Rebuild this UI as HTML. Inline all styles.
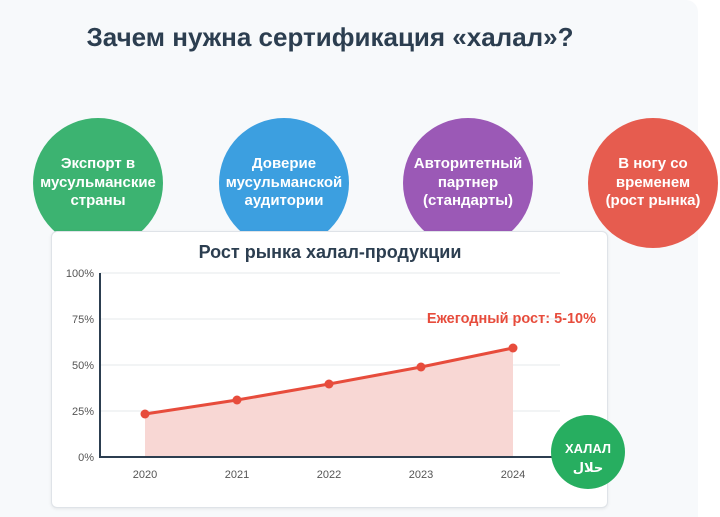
<!DOCTYPE html>
<html><head><meta charset="utf-8"><style>
body{margin:0;width:720px;height:517px;background:#fff;overflow:hidden;font-family:"Liberation Sans","DejaVu Sans",sans-serif;position:relative}
.panel{position:absolute;left:0;top:0;width:698px;height:517px;background:#f7f9fb;border-radius:0 12px 0 0}
h1{position:absolute;left:0;width:660px;top:22px;margin:0;text-align:center;font-size:26px;color:#2c3e50;font-weight:bold}
.c{position:absolute;width:130px;height:130px;border-radius:50%;top:118px;color:#fff;font-weight:bold;font-size:15px;line-height:18.5px;display:flex;align-items:center;justify-content:center;text-align:center}
.card{position:absolute;left:51px;top:231px;width:555px;height:275px;background:#fff;border:1px solid #dfe3e8;border-radius:6px;box-shadow:0 1px 3px rgba(0,0,0,.08)}
</style></head><body>
<div class="panel"></div>
<h1>Зачем нужна сертификация «халал»?</h1>
<div class="c" style="left:33px;background:#3cb371">Экспорт в<br>мусульманские<br>страны</div>
<div class="c" style="left:219px;background:#3c9fe0">Доверие<br>мусульманской<br>аудитории</div>
<div class="c" style="left:403px;background:#9b59b6">Авторитетный<br>партнер<br>(стандарты)</div>
<div class="c" style="left:588px;background:#e65c4f">В ногу со<br>временем<br>(рост рынка)</div>
<div class="card"></div>
<svg style="position:absolute;left:0;top:0" width="720" height="517" font-family="Liberation Sans, sans-serif">
<text x="330" y="258" text-anchor="middle" font-size="18" font-weight="bold" fill="#2c3e50">Рост рынка халал-продукции</text>
<g stroke="#e6e8eb" stroke-width="1">
<line x1="100" x2="560" y1="273" y2="273"/><line x1="100" x2="560" y1="319" y2="319"/><line x1="100" x2="560" y1="365" y2="365"/><line x1="100" x2="560" y1="411" y2="411"/></g>
<g font-size="11" fill="#555" text-anchor="end">
<text x="94" y="277">100%</text><text x="94" y="323">75%</text><text x="94" y="369">50%</text><text x="94" y="415">25%</text><text x="94" y="461">0%</text></g>
<polygon points="145,414 237,400 329,384 421,367 513,348 513,457 145,457" fill="#f8d7d4"/>
<line x1="100" y1="273" x2="100" y2="458" stroke="#2c3e50" stroke-width="2"/>
<line x1="99" y1="457" x2="560" y2="457" stroke="#2c3e50" stroke-width="2"/>
<polyline points="145,414 237,400 329,384 421,367 513,348" fill="none" stroke="#e74c3c" stroke-width="3"/>
<g fill="#e74c3c"><circle cx="145" cy="414" r="4.5"/><circle cx="237" cy="400" r="4.5"/><circle cx="329" cy="384" r="4.5"/><circle cx="421" cy="367" r="4.5"/><circle cx="513" cy="348" r="4.5"/></g>
<g font-size="11" fill="#555" text-anchor="middle">
<text x="145" y="478">2020</text><text x="237" y="478">2021</text><text x="329" y="478">2022</text><text x="421" y="478">2023</text><text x="513" y="478">2024</text></g>
<text x="596" y="323" text-anchor="end" font-size="14.5" font-weight="bold" fill="#e74c3c">Ежегодный рост: 5-10%</text>
<circle cx="588" cy="452" r="37" fill="#27ae60"/>
<text x="588" y="453" text-anchor="middle" font-size="13" font-weight="bold" fill="#fff">ХАЛАЛ</text>
<text x="588" y="472" text-anchor="middle" font-size="13" font-weight="bold" fill="#fff" font-family="DejaVu Sans, sans-serif">حلال</text>
</svg>
</body></html>
